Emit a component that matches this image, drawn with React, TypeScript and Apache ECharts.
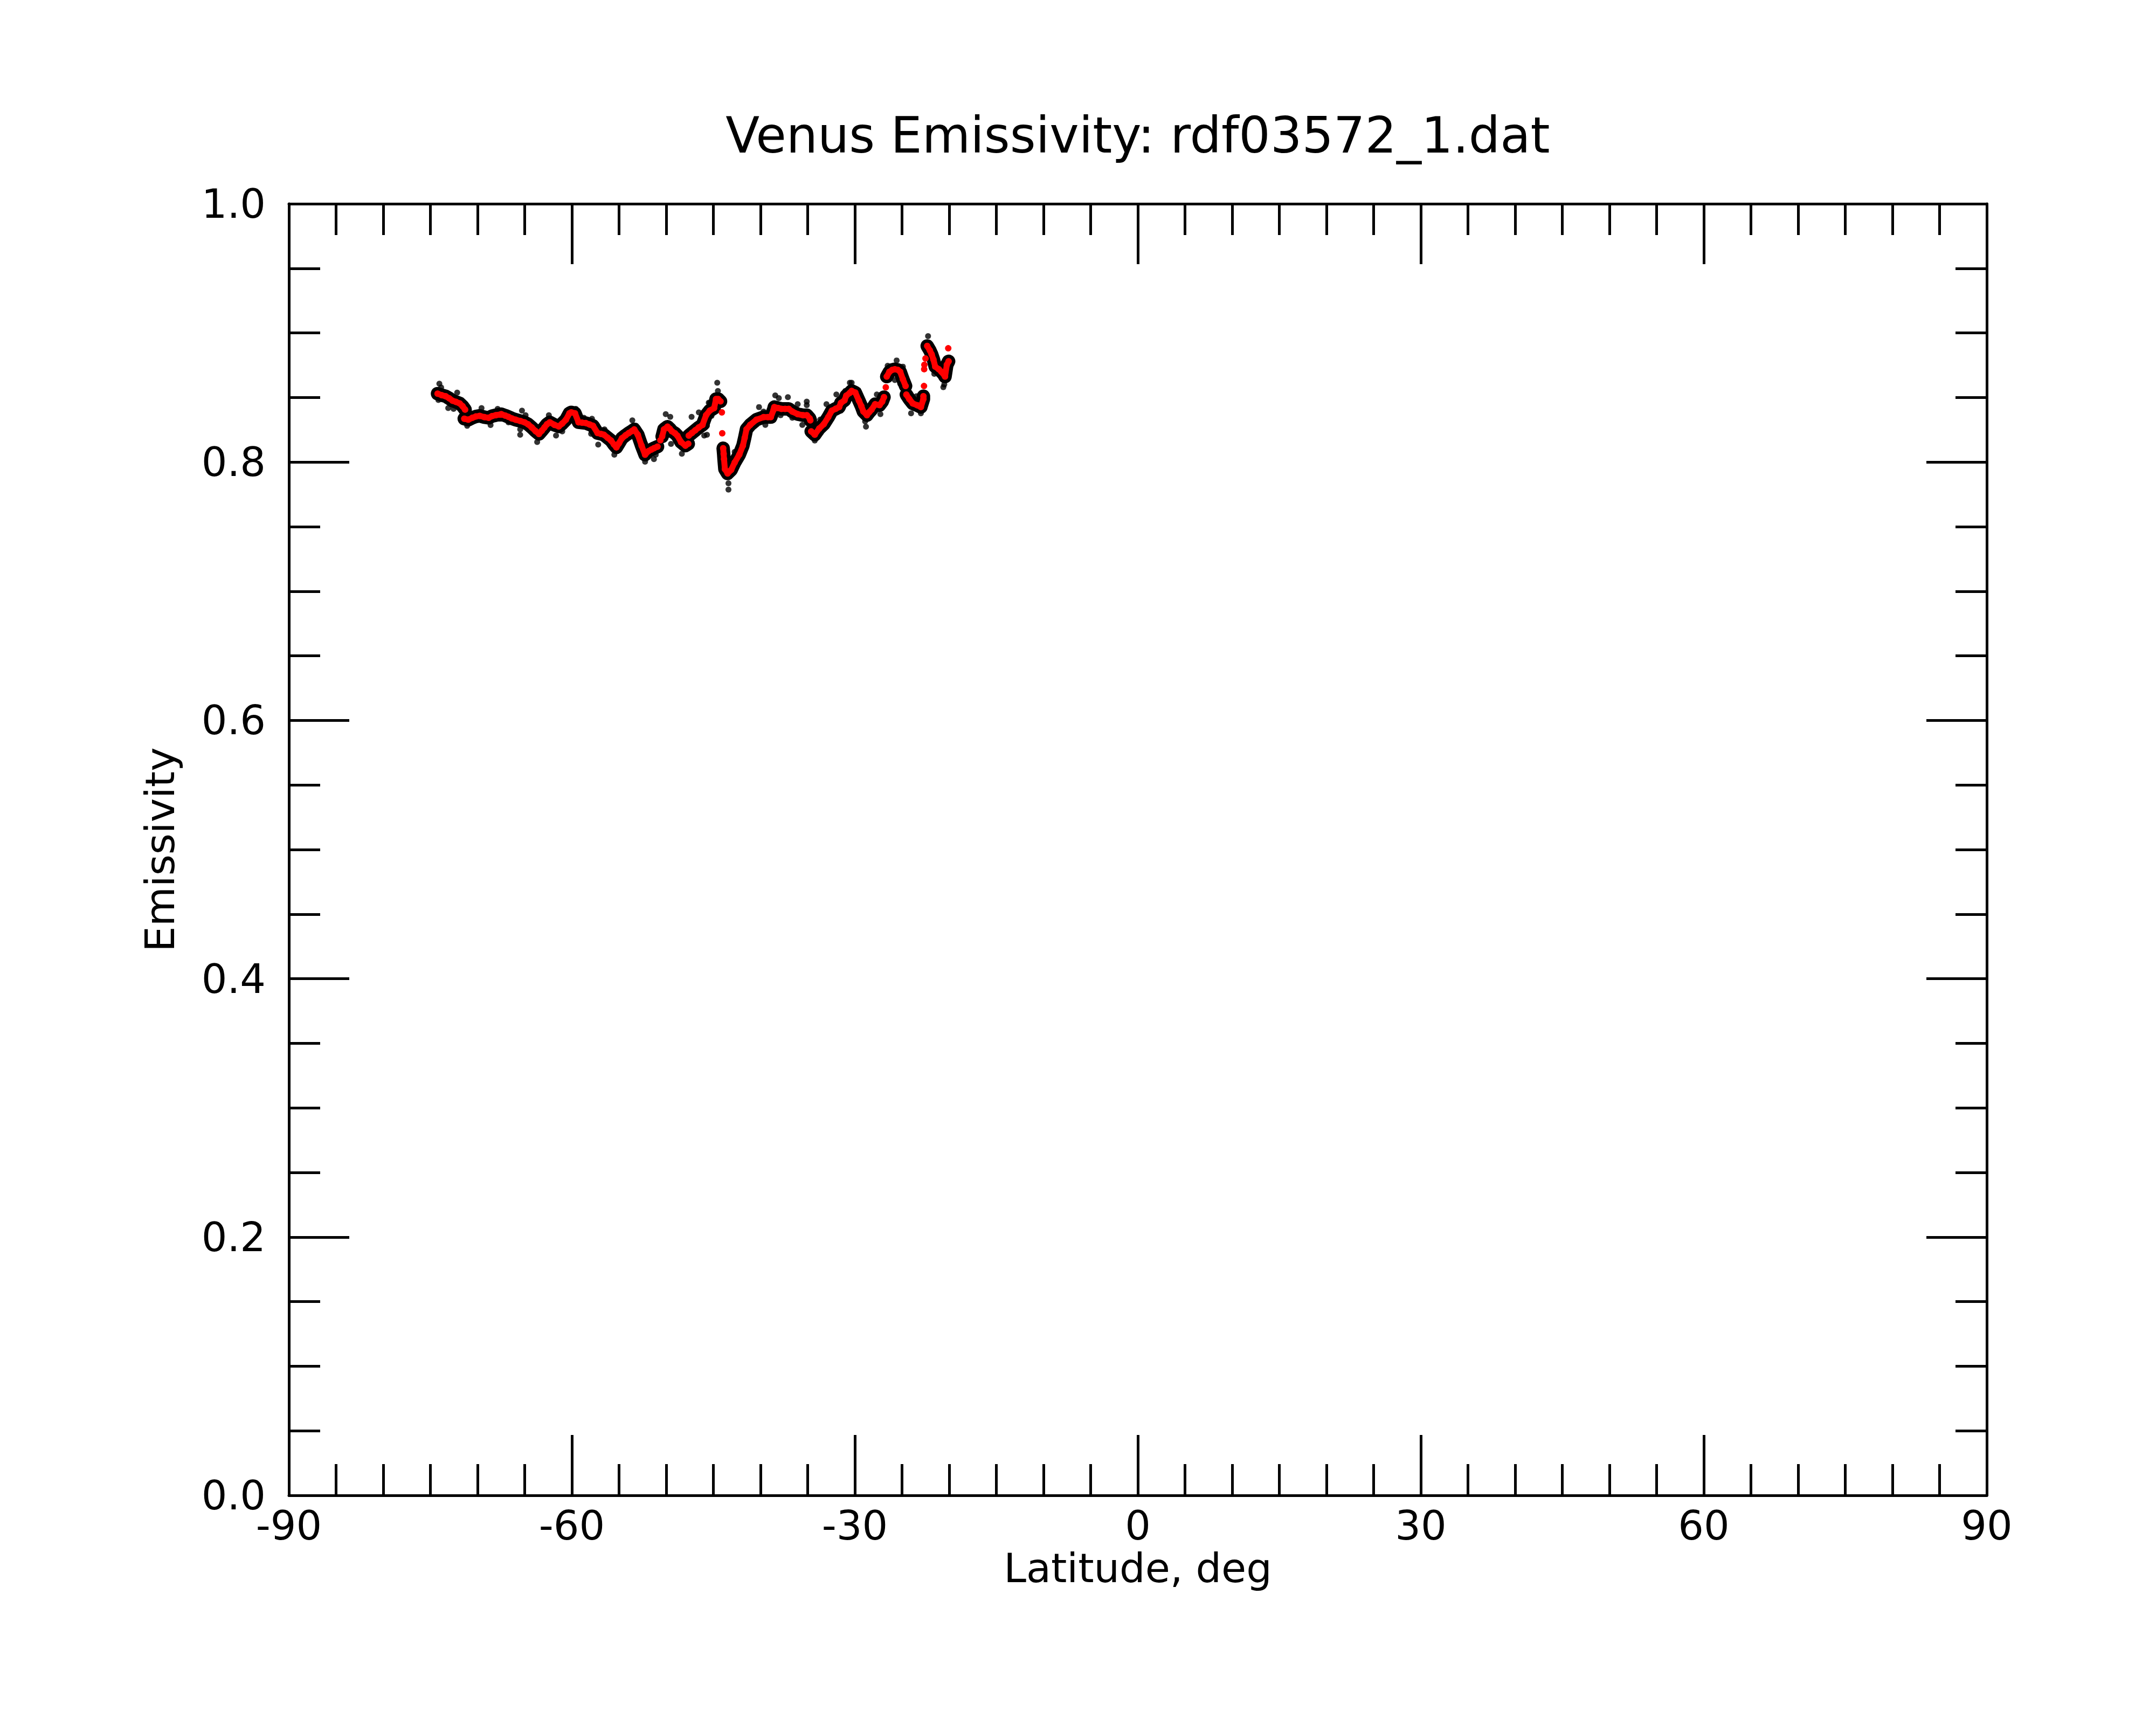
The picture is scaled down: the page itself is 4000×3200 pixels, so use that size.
import React, { useEffect, useRef } from "react";
import * as echarts from "echarts";

const TITLE = "Venus Emissivity: rdf03572_1.dat";
const X_NAME = "Latitude, deg";
const Y_NAME = "Emissivity";
const X_MIN = -90;
const X_MAX = 90;
const X_STEP = 30;
const Y_MIN = 0;
const Y_MAX = 1;
const Y_STEP = 0.2;

// smoothed (red) curve; null = gap in the curve
const smoothLat = [
  -74.24, -73.8, -73.39, -72.99, -72.65, -72.29, -71.89, -71.59, -71.32, -71.37,
  -71.41, -70.98, -70.55, -70.18, -69.78, -69.28, -68.82, -68.47, -68.07, -67.49,
  -67.06, -66.72, -66.36, -65.96, -65.46, -65.02, -64.65, -64.25, -63.85, -63.49,
  -63.19, -62.91, -62.64, -62.34, -61.84, -61.39, -61.03, -60.63, -60.26, -60.07,
  -59.67, -59.29, -58.92, -58.52, -58.11, -57.76, -57.28, -56.91, -56.61, -56.2,
  -55.85, -55.55, -55.28, -55.0, -54.7, -54.29, -53.96, -53.64, -53.39, -53.01,
  -52.61, -52.24, -51.88, -51.58, -51.3, -50.92, -50.78,
  -50.62, -50.52,
  -50.43, -50.24, -49.86, -49.62, -49.39, -49.07, -48.82, -48.43, -47.96, -47.66, -47.64,
  -47.61, -47.26, -46.92, -46.55, -46.15, -45.77, -45.39, -44.92, -44.72, -44.49, -44.24, -44.17,
  -44.1, -44.08,
  -44.06, -44.01,
  -43.96, -43.91, -43.87, -43.78, -43.49, -43.11, -42.74, -42.25, -41.87, -41.68,
  -41.49, -41.1, -40.44, -39.68, -39.21, -38.91, -38.61, -38.54, -38.11, -37.78,
  -37.4, -37.01, -36.63, -36.06, -35.49, -35.09, -34.79, -34.72, -34.67,
  -34.63, -34.25, -33.78, -33.29, -32.82, -32.44, -32.03, -31.67, -31.48, -31.1,
  -30.91, -30.53, -30.34, -29.95, -29.57, -29.31, -29.1, -28.72, -28.46, -28.23,
  -27.85, -27.38, -27.1, -26.91, -26.82,
  -26.72, -26.67,
  -26.62, -26.34, -26.04, -25.76, -25.44, -25.19, -24.91, -24.62, -24.58,
  -24.54, -24.23, -23.86, -23.38, -23.0, -22.73, -22.73, -22.7,
  -22.67, -22.66,
  -22.65, -22.64,
  -22.63, -22.57,
  -22.51, -22.43,
  -22.33, -22.05, -21.86, -21.67, -21.48, -21.1, -20.82, -20.62, -20.44, -20.25, -20.06, -20.08,
  -20.1,
];
const smoothEmis = [
  0.853, 0.8518, 0.851, 0.8493, 0.8475, 0.8466, 0.8454, 0.8433, 0.8406, null,
  0.8336, 0.8328, 0.8343, 0.8353, 0.8358, 0.8348, 0.8343, 0.8356, 0.8363, 0.8371,
  0.836, 0.835, 0.8338, 0.8328, 0.8318, 0.8308, 0.8293, 0.8268, 0.824, 0.8218,
  0.8243, 0.8268, 0.8293, 0.8308, 0.8288, 0.8276, 0.8298, 0.8328, 0.8378, 0.8385,
  0.8378, 0.8308, 0.8305, 0.8302, 0.8291, 0.8281, 0.8225, 0.8218, 0.8212, 0.8188,
  0.8167, 0.8137, 0.8114, 0.8147, 0.8184, 0.8208, 0.8225, 0.824, 0.8253, 0.8212,
  0.8127, 0.8057, 0.8085, 0.8097, 0.8107, 0.812, null,
  0.8169, null,
  0.8198, 0.8253, 0.8274, 0.8258, 0.8238, 0.8223, 0.8205, 0.8155, 0.8127, 0.8142, null,
  0.8205, 0.8226, 0.8246, 0.8268, 0.8288, 0.8363, 0.8398, 0.8418, 0.8488, 0.8488, 0.847, null,
  0.8385, null,
  0.8223, null,
  0.8107, 0.8065, 0.8023, 0.7946, 0.7912, 0.794, 0.7997, 0.8058, 0.8127, 0.8188,
  0.8254, 0.8288, 0.8328, 0.8348, 0.8348, 0.8348, 0.8406, 0.8426, 0.8418, 0.8412,
  0.8412, 0.8412, 0.8391, 0.8371, 0.8363, 0.8363, 0.8338, 0.8323, null,
  0.8238, 0.8212, 0.826, 0.8294, 0.8348, 0.8398, 0.8413, 0.8426, 0.8458, 0.8478,
  0.8514, 0.8536, 0.8551, 0.8538, 0.8476, 0.8433, 0.8392, 0.8363, 0.8388, 0.8406,
  0.8448, 0.8441, 0.8468, 0.8503, null,
  0.8579, null,
  0.8662, 0.8699, 0.8714, 0.8719, 0.8714, 0.8699, 0.8642, 0.8589, null,
  0.8523, 0.8488, 0.8454, 0.844, 0.8426, 0.8488, 0.851, null,
  0.8589, null,
  0.8719, null,
  0.8753, null,
  0.8802, null,
  0.8899, 0.8865, 0.8835, 0.8794, 0.8739, 0.8719, 0.8699, 0.8683, 0.8662, 0.8753, 0.878, null,
  0.8881,
];

// raw (black) samples lying off the smoothed band
const rawLat = [
  -74.05, -73.86, -74.15, -73.11, -72.54, -72.16, -70.91, -71.1, -69.58, -68.62,
  -67.87, -66.72, -65.29, -65.48, -65.48, -64.91, -63.68, -62.44, -61.68, -61.02,
  -60.26, -59.58, -58.72, -57.87, -57.96, -57.21, -56.54, -55.5, -53.59, -53.2,
  -52.24, -52.24, -51.3, -51.11, -50.05, -49.57, -49.49, -48.72, -48.34, -47.31,
  -46.54, -45.97, -45.78, -45.49, -45.39, -45.68, -45.68, -45.2, -44.59, -44.52,
  -43.4, -43.4, -42.74, -40.16, -39.68, -39.49, -38.44, -38.06, -37.87, -37.1,
  -36.63, -36.06, -35.57, -35.1, -35.1, -34.25, -33.67, -33.01, -31.96, -31.48,
  -31.01, -30.53, -30.34, -31.01, -29.57, -28.91, -28.82, -28.15, -27.67, -27.29,
  -26.52, -25.57, -24.91, -25.76, -25.19, -24.04, -23.47, -23.0, -22.24, -21.58,
  -21.1, -20.82, -20.52, -20.62,
];
const rawEmis = [
  0.8607, 0.8578, 0.8481, 0.8418, 0.8412, 0.8538, 0.8371, 0.8281, 0.8418, 0.8287,
  0.8412, 0.8308, 0.8398, 0.8253, 0.8212, 0.8363, 0.8155, 0.8363, 0.8205, 0.8238,
  0.8406, 0.8412, 0.8343, 0.8336, 0.8219, 0.8135, 0.8253, 0.8057, 0.8323, 0.8281,
  0.8142, 0.8003, 0.8023, 0.8057, 0.8371, 0.835, 0.8141, 0.8232, 0.8065, 0.835,
  0.8385, 0.8205, 0.8274, 0.846, 0.8458, 0.8281, 0.8212, 0.8358, 0.8614, 0.8551,
  0.7836, 0.7787, 0.8079, 0.8426, 0.8391, 0.8288, 0.8516, 0.8495, 0.8363, 0.8503,
  0.8343, 0.8448, 0.8288, 0.8468, 0.8441, 0.8167, 0.8329, 0.8448, 0.8524, 0.8398,
  0.8551, 0.8614, 0.8614, 0.8543, 0.8406, 0.8315, 0.8274, 0.8371, 0.8524, 0.8371,
  0.8746, 0.8787, 0.8739, 0.8635, 0.8607, 0.8378, 0.851, 0.8378, 0.8975, 0.8683,
  0.876, 0.8656, 0.8601, 0.858,
];

const FONT = "DejaVu Sans";

export default function App() {
  const ref = useRef<HTMLDivElement>(null);

  useEffect(() => {
    document.body.style.margin = "0";
    if (!ref.current) return;
    const chart = echarts.init(ref.current, null, { renderer: "svg" });

    const smoothData = smoothLat.map((x, i) => [x, smoothEmis[i] === null ? "-" : smoothEmis[i]]);
    const rawData = rawLat.map((x, i) => [x, rawEmis[i]]);

    const line = { show: true, onZero: false, lineStyle: { color: "#000", width: 5 } };
    const tick = { show: true, inside: true, length: 112, lineStyle: { color: "#000", width: 5 } };
    const labelStyle = { fontSize: 75, color: "#000", fontFamily: FONT };

    const xCommon = {
      type: "value",
      min: X_MIN,
      max: X_MAX,
      interval: X_STEP,
      axisLine: line,
      axisTick: tick,
      minorTick: { show: true, splitNumber: 6, length: 58, lineStyle: { color: "#000", width: 5 } },
      splitLine: { show: false },
      minorSplitLine: { show: false },
    };
    const yCommon = {
      type: "value",
      min: Y_MIN,
      max: Y_MAX,
      interval: Y_STEP,
      axisLine: line,
      axisTick: tick,
      minorTick: { show: true, splitNumber: 4, length: 58, lineStyle: { color: "#000", width: 5 } },
      splitLine: { show: false },
      minorSplitLine: { show: false },
    };

    chart.setOption({
      animation: false,
      backgroundColor: "#fff",
      title: {
        text: TITLE,
        left: 2111,
        top: 205,
        textAlign: "center",
        padding: 0,
        textStyle: { fontSize: 92, fontWeight: "normal", color: "#000", fontFamily: FONT },
      },
      grid: { left: 536, top: 378, width: 3150, height: 2396, containLabel: false },
      xAxis: [
        {
          ...xCommon,
          position: "bottom",
          axisLabel: { ...labelStyle, margin: 18 },
          name: X_NAME,
          nameLocation: "middle",
          nameGap: 94,
          nameTextStyle: labelStyle,
        },
        { ...xCommon, position: "top", axisLabel: { show: false } },
      ],
      yAxis: [
        {
          ...yCommon,
          position: "left",
          axisLabel: { ...labelStyle, margin: 43, formatter: (v: number) => v.toFixed(1) },
          name: Y_NAME,
          nameLocation: "middle",
          nameGap: 202,
          nameTextStyle: labelStyle,
        },
        { ...yCommon, position: "right", axisLabel: { show: false } },
      ],
      series: [
        {
          type: "line",
          data: smoothData,
          showSymbol: false,
          connectNulls: false,
          lineStyle: { color: "#000", width: 25, cap: "round", join: "round" },
          silent: true,
          z: 1,
        },
        {
          type: "scatter",
          data: rawData,
          symbol: "circle",
          symbolSize: 11,
          itemStyle: { color: "#000" },
          silent: true,
          z: 2,
        },
        {
          type: "line",
          data: smoothData,
          showSymbol: true,
          showAllSymbol: true,
          symbol: "circle",
          symbolSize: 12,
          connectNulls: false,
          itemStyle: { color: "#ff0000", borderWidth: 0 },
          lineStyle: { color: "#ff0000", width: 11, cap: "round", join: "round" },
          silent: true,
          z: 3,
        },
      ],
    });

    return () => chart.dispose();
  }, []);

  return <div ref={ref} style={{ width: 4000, height: 3200, background: "#fff" }} />;
}
